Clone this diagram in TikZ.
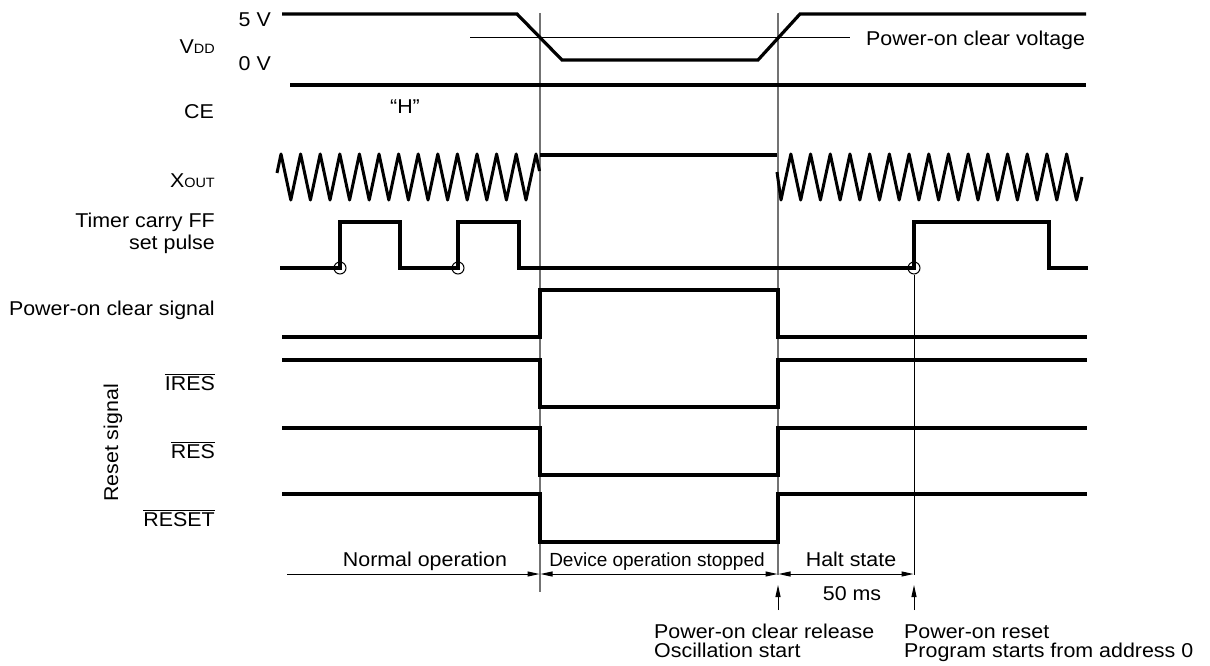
\documentclass[tikz,border=0pt]{standalone}
\usepackage{fontspec}
\setmainfont{Liberation Sans}[FakeStretch=1.07]
\newfontfamily\condfont{Liberation Sans}
\usetikzlibrary{arrows.meta}
\newcommand{\smallsub}[1]{{\fontsize{13.5}{13.5}\selectfont #1}}
\tikzset{
  sig/.style={line width=3.2pt},
  zig/.style={line width=3pt, line join=round},
  guide/.style={line width=1.2pt, draw=black!55},
  hair/.style={line width=1pt, draw=black},
  lab/.style={font=\fontsize{20}{22}\selectfont, inner sep=0pt},
  clab/.style={font=\condfont\fontsize{19}{20}\selectfont, inner sep=0pt},
  dimarrow/.style={line width=1pt, -{Triangle[length=12pt,width=5pt]}},
  dimboth/.style={line width=1pt, {Triangle[length=12pt,width=5pt]}-{Triangle[length=12pt,width=5pt]}},
}
\begin{document}
\begin{tikzpicture}[x=1pt,y=-1pt]
\useasboundingbox (0,0) rectangle (1210,666);

% guide lines
\draw[guide] (540,13) -- (540,592);
\draw[guide] (778,13) -- (778,575);

% labels
\node[lab, anchor=base east] (v5) at (271,27) {5 V};
\node[lab, anchor=base east] (vdd) at (215,54) {V\smallsub{DD}};
\node[lab, anchor=base east] (v0) at (271,71) {0 V};
\node[lab, anchor=base east] (ce) at (214,119) {CE};
\node[lab, anchor=base] (hh) at (405,114) {“H”};
\node[lab, anchor=base east] (xout) at (215,187) {X\smallsub{OUT}};
\node[lab, anchor=base east] (tc1) at (215,227) {Timer carry FF};
\node[lab, anchor=base east] (tc2) at (215,249) {set pulse};
\node[lab, anchor=base east] (poc) at (215,315) {Power-on clear signal};
\node[lab, anchor=base east] (ires) at (215,390) {$\overline{\hbox{IRES}}$};
\node[lab, anchor=base east] (res) at (215,458) {$\overline{\hbox{RES}}$};
\node[lab, anchor=base east] (reset) at (215,526) {$\overline{\hbox{RESET}}$};
\node[lab, rotate=90] (rsig) at (113,443) {Reset signal};
\node[lab, anchor=base west] (pocv) at (866,46) {Power-on clear voltage};

% VDD
\draw[sig] (282,14) -- (517,14) -- (562,60) -- (758,60) -- (800,14) -- (1086,14);
\draw[hair] (470,38) -- (850,38);
% CE
\draw[sig] (290,85) -- (1086,85);

% XOUT
\draw[zig] (277,173) \foreach \k in {0,...,12}{ -- ({281+19.6*\k},154) -- ({290.8+19.6*\k},200) } -- (536,154) -- (539.5,171);
\draw[sig] (540,155) -- (777,155);
\draw[zig] (777,172) -- (781,200) \foreach \k in {0,...,14}{ -- ({790.85+19.7*\k},154) -- ({800.7+19.7*\k},200) } -- (1082,177);

% Timer carry FF set pulse
\draw[sig] (280,268) -- (340,268) -- (340,222) -- (400,222) -- (400,268) -- (458,268) -- (458,222) -- (519,222) -- (519,268) -- (914,268) -- (914,222) -- (1049,222) -- (1049,268) -- (1088,268);
\node[hair, circle, minimum size=12pt, inner sep=0pt] (c1) at (340,268) {};
\node[hair, circle, minimum size=12pt, inner sep=0pt] (c2) at (458,268) {};
\node[hair, circle, minimum size=12pt, inner sep=0pt] (c3) at (914,268) {};
\coordinate (c3low) at (914,575);
\draw[hair] (c3.south) -- (c3low);

% Power-on clear signal
\draw[sig] (282,337) -- (540,337) -- (540,290) -- (778,290) -- (778,337) -- (1087,337);
% IRES
\draw[sig] (282,360) -- (540,360) -- (540,407) -- (778,407) -- (778,360) -- (1087,360);
% RES
\draw[sig] (282,428) -- (540,428) -- (540,475) -- (778,475) -- (778,428) -- (1087,428);
% RESET
\draw[sig] (282,494) -- (540,494) -- (540,542) -- (778,542) -- (778,494) -- (1087,494);

% bottom dimensions
\coordinate (nA) at (287,574);
\coordinate (nB) at (539.5,574);
\coordinate (dA) at (540.5,574);
\coordinate (dB) at (777.5,574);
\coordinate (hA) at (778.5,574);
\coordinate (hB) at (913.5,574);
\draw[dimarrow] (nA) -- (nB);
\draw[dimboth] (dA) -- (dB);
\draw[dimboth] (hA) -- (hB);
\node[lab, anchor=base] (normal) at (425,566) {Normal operation};
\node[clab, anchor=base] (dev) at (657,566) {Device operation stopped};
\node[lab, anchor=base] (halt) at (851,566) {Halt state};
\node[lab, anchor=base] (ms) at (852,600) {50 ms};

\coordinate (u1t) at (778,610);
\coordinate (u1h) at (778,585);
\coordinate (u2t) at (914,610);
\coordinate (u2h) at (914,585);
\draw[dimarrow] (u1t) -- (u1h);
\draw[dimarrow] (u2t) -- (u2h);

\node[lab, anchor=base west] (pcr) at (654,638) {Power-on clear release};
\node[lab, anchor=base west] (osc) at (654,657) {Oscillation start};
\node[lab, anchor=base west] (por) at (904,638) {Power-on reset};
\node[lab, anchor=base west] (prg) at (904,657) {Program starts from address 0};
\end{tikzpicture}
\end{document}
